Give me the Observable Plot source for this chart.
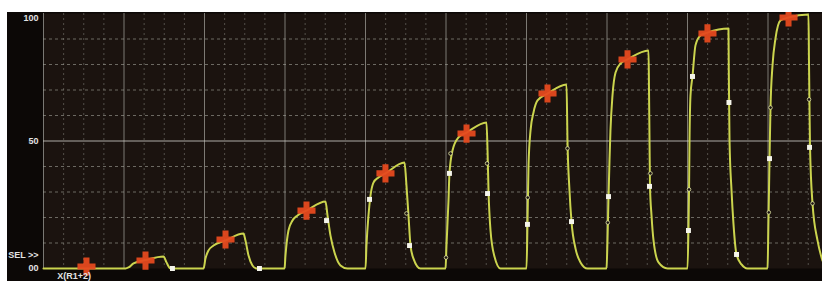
<!DOCTYPE html>
<html>
<head>
<meta charset="utf-8">
<script src="https://cdn.jsdelivr.net/npm/d3@7"></script>
<script src="https://cdn.jsdelivr.net/npm/@observablehq/plot@0.6"></script>
<style>
  html, body { margin: 0; padding: 0; background: #ffffff; }
  #wrap { padding: 12px 0 0 7px; width: 815px; height: 269px; overflow: hidden; }
  svg { display: block; }
</style>
</head>
<body>
<div id="wrap"></div>
<script>
// ---- data (time units: 10 per major division; level in %) ----
const yTickValues = [0, 50, 100];
const yTickLabels = ["00", "50", "100"];
const xMajor = [0, 10, 20, 30, 40, 50, 60, 70, 80, 90];
const xMinor = [2.5, 5, 7.5, 12.5, 15, 17.5, 22.5, 25, 27.5, 32.5, 35, 37.5, 42.5, 45, 47.5,
                52.5, 55, 57.5, 62.5, 65, 67.5, 72.5, 75, 77.5, 82.5, 85, 87.5, 92.5, 95];
const yMinor = [10, 20, 30, 40, 60, 70, 80, 90];

const pulse1 = [[0, 0]];
const pulse2 = [[10.19,0],[10.56,0.4],[11.18,2.0],[12.67,3.3],[14.91,4.7],[15.28,2.4],[15.78,0]];
const pulse3 = [[19.88,0],[20.12,3.9],[20.50,7.1],[21.12,9.0],[22.61,11.0],[24.84,13.7],[25.09,11.0],[25.47,5.1],[25.96,1.2],[26.46,0]];
const pulse4 = [[29.94,0],[30.06,5.1],[30.43,14.9],[30.93,18.8],[31.55,20.8],[32.67,22.7],[35.03,26.3],[35.28,20.8],[35.65,12.9],[36.15,6.3],[36.89,1.2],[37.76,0]];
const pulse5 = [[40.0,0],[40.12,9.0],[40.37,20.8],[40.62,28.6],[40.99,33.7],[41.61,35.7],[42.48,37.3],[44.84,41.6],[45.09,32.5],[45.34,20.8],[45.59,9.0],[45.96,3.9],[46.83,0]];
const pulse6 = [[49.94,0],[50.06,9.0],[50.31,26.7],[50.43,37.3],[50.81,46.3],[51.55,51.4],[52.55,53.3],[55.03,57.3],[55.16,46.3],[55.28,30.6],[55.53,14.9],[56.02,4.7],[56.77,0]];
const pulse7 = [[60.0,0],[60.12,17.3],[60.25,40.4],[60.50,54.1],[60.87,61.2],[61.37,65.9],[62.61,68.6],[64.97,72.2],[65.09,50.2],[65.34,30.6],[65.59,18.4],[66.09,7.8],[66.71,2.4],[67.58,0]];
const pulse8 = [[69.94,0],[70.06,11.0],[70.19,28.2],[70.31,42.4],[70.43,54.1],[70.68,67.8],[71.06,76.9],[71.68,80.4],[72.55,82.0],[75.16,85.5],[75.22,69.8],[75.28,50.2],[75.34,32.2],[75.53,20.8],[75.78,11.0],[76.40,2.4],[77.52,0]];
const pulse9 = [[80.0,0],[80.12,14.9],[80.19,30.6],[80.25,50.2],[80.37,67.8],[80.62,75.3],[80.99,87.5],[81.61,91.4],[82.48,92.5],[85.09,94.1],[85.13,77.6],[85.17,65.1],[85.22,50.2],[85.47,30.6],[85.71,17.6],[86.09,5.5],[86.71,1.6],[87.45,0]];
const pulse10 = [[89.94,0],[90.06,18.8],[90.19,43.1],[90.31,63.1],[90.56,79.6],[90.93,90.2],[91.55,97.3],[92.55,98.4],[95.03,99.6],[95.09,81.6],[95.16,62.0],[95.22,47.5],[95.53,25.5],[96.15,11.0],[96.77,3.1]];

const peakT = [5.34, 12.67, 22.61, 32.67, 42.48, 52.55, 62.61, 72.55, 82.48, 92.55];
const peakV = [0.8, 3.1, 11.4, 22.7, 37.3, 52.9, 68.6, 82.0, 92.2, 98.4];

const sampleT = [16.02, 26.83, 35.16, 40.50, 45.47, 50.43, 55.16, 60.12, 65.59, 70.19, 75.28, 80.12, 80.62, 85.15, 86.09, 90.19, 95.16];
const sampleV = [0, 0, 18.8, 27.1, 9.0, 37.3, 29.4, 17.3, 18.4, 28.2, 32.2, 14.9, 75.3, 65.1, 5.5, 43.1, 47.5];

const ringT = [45.09, 50.0, 50.56, 55.1, 60.15, 65.09, 70.1, 75.4, 80.19, 90.1, 90.31, 95.1, 95.53];
const ringV = [21.6, 4.3, 45.1, 41.2, 27.8, 47.1, 18.0, 37.3, 31.0, 22.0, 63.1, 66.3, 25.5];

const sideLabel = "SEL >>";
const bottomLabel = "X(R1+2)";

// ---- build tables ----
const trace = [pulse1, pulse2, pulse3, pulse4, pulse5, pulse6, pulse7, pulse8, pulse9, pulse10]
  .flat().map(([t, v]) => ({t, v}));
const peaks = peakT.map((t, i) => ({t, v: peakV[i]}));
const samples = sampleT.map((t, i) => ({t, v: sampleV[i]}));
const rings = ringT.map((t, i) => ({t, v: ringV[i]}));
const label = (d) => yTickLabels[yTickValues.indexOf(d)];

const chart = Plot.plot({
  width: 815,
  height: 269,
  marginLeft: 36,
  marginRight: 0,
  marginTop: 1,
  marginBottom: 13,
  x: {domain: [0, 96.77], axis: null},
  y: {domain: [0, 100], axis: null},
  style: {background: "#0c0806", fontFamily: "Liberation Sans", fontWeight: "bold", overflow: "hidden"},
  marks: [
    Plot.frame({fill: "#1b130f", stroke: null}),
    Plot.ruleX(xMinor, {stroke: "#8c8c84", strokeOpacity: 0.5, strokeDasharray: "2,3"}),
    Plot.ruleY(yMinor, {stroke: "#a4a49a", strokeOpacity: 0.6, strokeDasharray: "3,3"}),
    Plot.ruleX(xMajor, {stroke: "#a6a6a0", strokeOpacity: 0.7}),
    Plot.ruleY([50], {stroke: "#c8c8c2", strokeOpacity: 0.85}),
    Plot.axisY({ticks: yTickValues.slice(0, 2), tickFormat: label,
      label: null, tickSize: 0, tickPadding: 5, fontSize: 9, fill: "#e2e2e2", fontWeight: "bold"}),
    Plot.axisY({ticks: yTickValues.slice(2), tickFormat: label, dy: 5,
      label: null, tickSize: 0, tickPadding: 5, fontSize: 9, fill: "#e2e2e2", fontWeight: "bold"}),
    Plot.line(trace, {x: "t", y: "v", stroke: "#cbd44e", strokeWidth: 2, curve: "monotone-x"}),
    Plot.dot(rings, {x: "t", y: "v", r: 1.8, stroke: "#e4e8a8", strokeWidth: 0.8, fill: "#1b130f"}),
    Plot.dot(samples, {x: "t", y: "v", symbol: "square", r: 2.8, fill: "#f4f4ea", stroke: null}),
    Plot.dot(peaks, {x: "t", y: "v", symbol: "cross", r: 7.6, fill: "#e5491f", fillOpacity: 0.95, stroke: null}),
    Plot.text([sideLabel], {x: 0, y: 5.1, dx: -5, textAnchor: "end", fontSize: 9, fill: "#e2e2e2", fontWeight: "bold"}),
    Plot.text([bottomLabel], {x: 1.7, y: -3.1, textAnchor: "start", fontSize: 9, fill: "#e2e2e2", fontWeight: "bold"})
  ]
});
document.getElementById("wrap").appendChild(chart);
</script>
</body>
</html>
